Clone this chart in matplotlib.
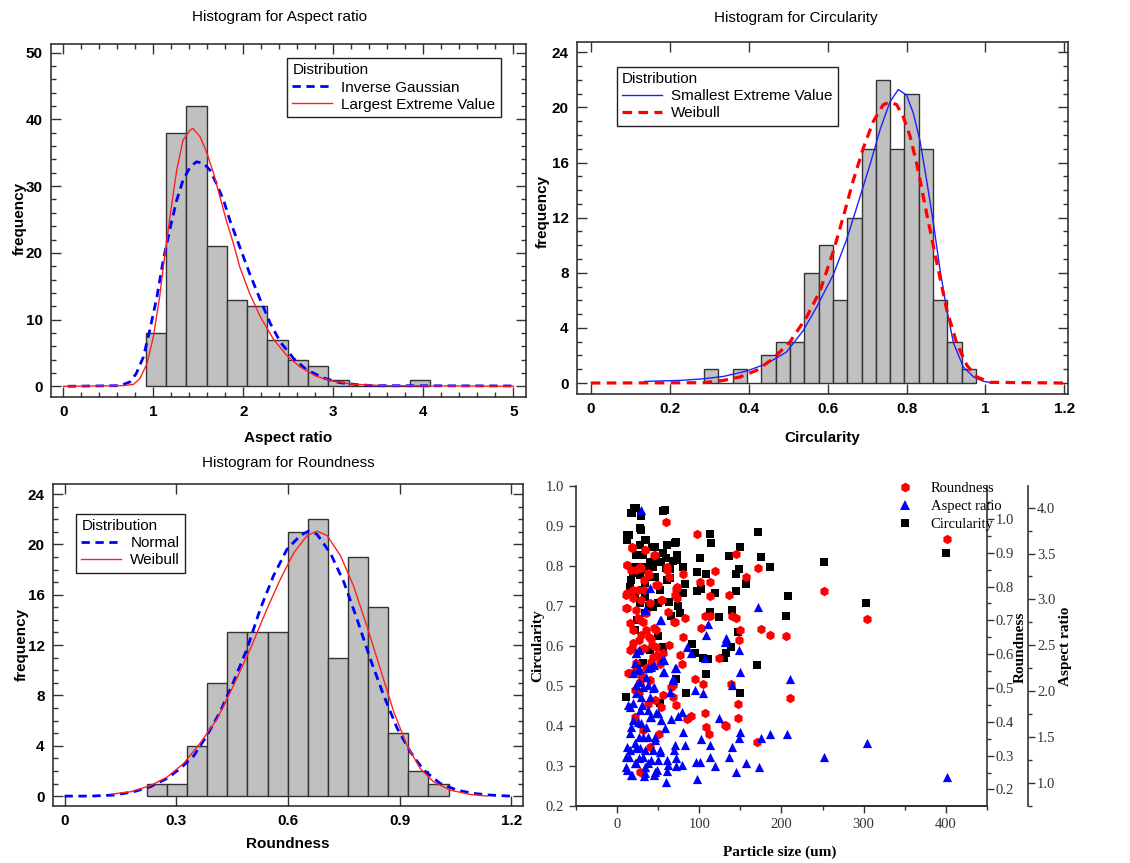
import numpy as np
import matplotlib
matplotlib.use("Agg")
import matplotlib.pyplot as plt
from matplotlib.ticker import MultipleLocator, FormatStrFormatter
from matplotlib.lines import Line2D

# ---------------- dados dos histogramas ----------------
ar_bin_start = 0.915
ar_bin_width = 0.2255
ar_counts = [8, 38, 42, 21, 13, 12, 7, 4, 3, 1, 0, 0, 0, 1]

ar_ig_x = [0.05, 0.63, 0.74, 0.81, 0.89, 0.96, 1.04, 1.11, 1.19, 1.26, 1.33, 1.41, 1.48, 1.56,
           1.63, 1.70, 1.78, 1.85, 1.96, 2.07, 2.19, 2.30, 2.41, 2.56, 2.70, 2.89, 3.07,
           3.26, 3.44, 5.0]
ar_ig_y = [0, 0.1, 0.65, 1.9, 4.4, 8.4, 13.4, 18.9, 23.9, 27.9, 30.9, 32.9, 33.65, 33.4,
           32.4, 30.4, 27.9, 24.9, 20.9, 16.9, 12.9, 9.4, 6.65, 4.15, 2.5, 1.25, 0.55,
           0.25, 0.1, 0.05]
ar_lev_x = [0.0, 0.67, 0.78, 0.85, 0.93, 1.0, 1.07, 1.13, 1.19, 1.26, 1.33, 1.41, 1.44, 1.52,
            1.59, 1.67, 1.74, 1.81, 1.89, 1.96, 2.07, 2.19, 2.33, 2.48, 2.63, 2.81, 3.0,
            3.22, 3.56, 5.0]
ar_lev_y = [0, 0.1, 0.3, 1.15, 3.4, 7.4, 13.4, 19.9, 25.9, 32.4, 36.9, 38.4, 38.65, 37.4,
            35.15, 31.9, 28.4, 24.9, 21.4, 17.9, 13.9, 10.4, 7.15, 4.65, 2.9, 1.5, 0.75,
            0.3, 0.1, 0]

ci_bin_start = 0.2866
ci_bin_width = 0.0363
ci_counts = [1, 0, 1, 0, 2, 3, 3, 8, 10, 6, 12, 17, 22, 17, 21, 17, 6, 3, 1]

ci_sev_x = [0.137, 0.226, 0.287, 0.336, 0.395, 0.445, 0.496, 0.538, 0.572, 0.615, 0.648,
            0.682, 0.708, 0.733, 0.758, 0.779, 0.80, 0.817, 0.834, 0.851, 0.868, 0.885,
            0.902, 0.919, 0.944, 0.970, 0.995, 1.02]
ci_sev_y = [0.12, 0.19, 0.31, 0.48, 0.87, 1.4, 2.25, 3.8, 5.5, 7.9, 10.4, 13.5, 15.9, 18.4,
            20.4, 21.3, 20.9, 19.6, 17.6, 14.7, 11.6, 8.2, 5.3, 2.9, 1.16, 0.44, 0.12, 0]
ci_wb_x = [0.0, 0.285, 0.336, 0.378, 0.42, 0.462, 0.505, 0.547, 0.581, 0.615, 0.64, 0.665,
           0.691, 0.716, 0.741, 0.758, 0.775, 0.792, 0.809, 0.826, 0.851, 0.877, 0.902,
           0.927, 0.953, 0.978, 1.012, 1.198]
ci_wb_y = [0, 0.02, 0.19, 0.44, 0.92, 1.77, 3.0, 4.8, 6.7, 9.6, 12.1, 14.7, 17.1, 19.0,
           20.2, 20.4, 20.2, 19.3, 17.9, 15.9, 12.3, 8.7, 5.3, 2.9, 1.28, 0.44, 0.05, 0]

ro_bin_start = 0.2212
ro_bin_width = 0.054
ro_counts = [1, 1, 4, 9, 13, 13, 13, 21, 22, 11, 19, 15, 5, 2, 1]

ro_nor_x = [0.0, 0.069, 0.132, 0.185, 0.23, 0.275, 0.311, 0.347, 0.382, 0.418, 0.454, 0.49,
            0.526, 0.561, 0.597, 0.633, 0.655, 0.678, 0.714, 0.75, 0.785, 0.821, 0.857,
            0.893, 0.929, 0.964, 1.009, 1.054, 1.099, 1.144, 1.197]
ro_nor_y = [0, 0, 0.08, 0.34, 0.74, 1.4, 2.2, 3.2, 4.8, 6.7, 9.1, 11.7, 14.9, 17.5, 19.6,
            20.7, 21.05, 20.8, 19.3, 17.0, 14.1, 10.9, 8.0, 5.4, 3.5, 2.06, 1.0, 0.47,
            0.21, 0.08, 0]
ro_wb_x = [0.127, 0.176, 0.23, 0.275, 0.32, 0.364, 0.409, 0.454, 0.499, 0.544, 0.579,
           0.615, 0.651, 0.678, 0.705, 0.741, 0.776, 0.812, 0.848, 0.884, 0.92, 0.955,
           0.991, 1.036, 1.09, 1.135]
ro_wb_y = [0.16, 0.34, 0.82, 1.5, 2.6, 4.2, 6.1, 8.8, 11.7, 14.9, 17.2, 19.3, 20.7, 21.05,
           20.7, 19.1, 16.7, 13.5, 10.1, 6.7, 4.0, 2.2, 1.13, 0.47, 0.13, 0]

# ---------------- dados do gráfico de dispersão ----------------
size_c = [400, 303.4, 251.5, 206, 208.4, 171.6, 175.7, 185.8, 170.8, 156.6, 149.3, 148,
          144.4, 144.4, 136.3, 140.4, 147.2, 149.3, 139.1, 133, 130.2, 113.6, 114, 118.9,
          124.1, 113.6, 107.9, 101.4, 97.4, 102.7, 96.8, 94.5, 104.7, 110.8, 108.7, 91.7,
          84.4, 83.2, 80.3, 80.3, 77.1, 73, 71, 68.2, 64.9, 61.3, 58, 63.3, 74.2, 72.2,
          65.7, 61.3, 56, 51.9, 49.9, 43.8, 47.9, 45.8, 35.7, 31.6, 39.6, 38.9, 33.7, 28.8,
          27.6, 23.5, 20.7, 17.4, 12.2, 14.6, 10.5, 21.5, 20.3, 27.6, 25.6, 31.6, 35.7,
          39.6, 45.8, 49.9, 43.8, 27.6, 21.5, 23.9, 34.5, 30.4, 54, 56, 60, 17.4, 27.6,
          21.4, 17.9, 55.4, 12.5, 28.6, 33.9, 60.7, 71.5, 23.2, 42.9, 48.2, 73.2, 30.4,
          59, 19.6, 41.1, 64.3, 16.1, 33.9, 51.8]
circ = [0.832, 0.708, 0.811, 0.675, 0.725, 0.886, 0.823, 0.798, 0.553, 0.755, 0.847, 0.792,
        0.779, 0.738, 0.825, 0.69, 0.636, 0.482, 0.598, 0.583, 0.569, 0.879, 0.858, 0.732,
        0.673, 0.686, 0.779, 0.821, 0.786, 0.742, 0.738, 0.582, 0.569, 0.567, 0.53, 0.605,
        0.483, 0.755, 0.798, 0.732, 0.682, 0.828, 0.858, 0.813, 0.792, 0.853, 0.94, 0.711,
        0.70, 0.517, 0.676, 0.765, 0.598, 0.457, 0.625, 0.798, 0.817, 0.847, 0.865, 0.557,
        0.59, 0.701, 0.757, 0.925, 0.894, 0.944, 0.944, 0.933, 0.865, 0.878, 0.473, 0.64,
        0.798, 0.853, 0.828, 0.828, 0.79, 0.811, 0.773, 0.707, 0.698, 0.707, 0.728, 0.665,
        0.682, 0.74, 0.811, 0.832, 0.821, 0.765, 0.778,
        0.944, 0.932, 0.938, 0.878, 0.89, 0.865, 0.853, 0.861, 0.828, 0.848, 0.811, 0.815,
        0.798, 0.794, 0.782, 0.773, 0.769, 0.748, 0.723, 0.74]

size_r = [400.8, 304.3, 251.5, 206, 210.1, 185.8, 174.9, 171.6, 170.8, 156.6, 145.2, 140.4,
          145.2, 149.3, 148.5, 138.3, 147.6, 146.8, 135.9, 124.1, 131, 133, 118.9, 113.6,
          112.8, 113.6, 107.5, 102.7, 104.7, 106.7, 108.7, 111.6, 97.8, 100.6, 94.5, 90.5,
          85.6, 83.2, 80.3, 80.3, 79.5, 76.3, 72.2, 70.2, 70.2, 72.2, 68.2, 65.3, 61.3,
          62.9, 60, 63.3, 56, 55.2, 54, 51.1, 45.8, 47.1, 47.9, 45.8, 39.6, 39.6, 35.7,
          33.7, 32.5, 29.6, 27.6, 26.8, 23.5, 23.5, 21.5, 18.7, 17.4, 16.2, 13.4, 12.2,
          10.5, 11.4, 15.4, 19.9, 27.6, 31.6, 37.7, 31.6, 35.7, 41.8, 47.9, 39.6, 27.6,
          25.6, 37.7, 43.8, 52, 21.5, 27.6,
          12.5, 19.7, 28.6, 25, 35.7, 19.7, 28.6, 39.3, 44.7, 17.9, 32.2, 42.9, 48.2, 23.2,
          41.1, 51.8, 62.5, 69.7, 73.2, 53.6, 28.6, 16.1, 67.9, 55.4, 26.8,
          17.9, 33.9, 44.7, 12.5, 23.2, 28.6, 60.7, 39.3, 19.6, 32.2, 50, 73.2, 12.5]
roundness = [0.939, 0.704, 0.787, 0.654, 0.469, 0.656, 0.674, 0.855, 0.341, 0.829, 0.895,
             0.713, 0.706, 0.671, 0.643, 0.513, 0.454, 0.41, 0.775, 0.589, 0.39, 0.387,
             0.847, 0.772, 0.814, 0.712, 0.712, 0.676, 0.513, 0.427, 0.385, 0.365, 0.955,
             0.814, 0.528, 0.417, 0.407, 0.706, 0.651, 0.837, 0.572, 0.597, 0.794, 0.775,
             0.696, 0.449, 0.474, 0.503, 0.858, 0.829, 0.992, 0.627, 0.604, 0.76, 0.444,
             0.365, 0.893, 0.804, 0.671, 0.464, 0.326, 0.523, 0.558, 0.908, 0.819, 0.612,
             0.858, 0.641, 0.73, 0.553, 0.415, 0.913, 0.849, 0.612, 0.543, 0.863, 0.775,
             0.735, 0.691, 0.632, 0.252, 0.375, 0.454, 0.696, 0.671, 0.646, 0.622, 0.75,
             0.70, 0.789, 0.839, 0.592, 0.572, 0.494, 0.518,
             0.736, 0.766, 0.760, 0.707, 0.721, 0.671, 0.656, 0.650, 0.677, 0.618, 0.618,
             0.627, 0.597, 0.573, 0.576, 0.582, 0.724, 0.695, 0.766, 0.760, 0.538, 0.544,
             0.508, 0.479, 0.488,
             0.917, 0.908, 0.893, 0.863, 0.849, 0.854, 0.849, 0.834, 0.789, 0.789, 0.804,
             0.799, 0.780]

size_a = [400.8, 304.3, 251.5, 210.1, 206.9, 185.8, 175.7, 171.6, 172.4, 156.6, 149.3, 148,
          149.3, 148.5, 145.2, 140.4, 140.4, 136.3, 133, 131, 124.1, 118.9, 113.6, 113.6,
          110.8, 108.7, 107.5, 104.7, 102.7, 100.6, 96.6, 97.4, 94.5, 90.5, 85.2, 83.2,
          80.3, 79.5, 79.5, 74.2, 72.2, 70.2, 70.2, 68.2, 65.3, 62.1, 60, 58.8, 56, 55.2,
          52.8, 54, 51.9, 47.9, 45.8, 43.8, 41.8, 39.6, 39.6, 37.7, 34.5, 33.7, 31.6, 29.6,
          26.8, 23.5, 23.5, 21.5, 19.5, 17.4, 15.4, 12.2, 10.5, 13.8, 17.4, 25.6, 27.6,
          29.6, 35.7, 39.6, 45.8, 49.9, 31.6, 23.5, 21.5, 27.6, 35.7, 43.8, 25.6, 31.6,
          37.7, 19.5,
          33.9, 53.6, 23.2, 26.8, 37.5, 44.7, 57.2, 57.2, 71.5, 67.9, 26.8, 37.5, 44.7,
          23.2, 64.3,
          16.1, 30.4, 19.7, 28.6, 41.1, 50, 16.1, 26.8, 37.5, 46.4, 12.5, 23.2, 33.9, 51.8,
          14.3, 26.8, 41.1, 10.7, 21.4, 33.9, 48.2, 17.9, 32.2, 44.7, 60.7, 71.5, 69.7,
          60.7]
aspect = [1.065, 1.429, 1.276, 2.127, 1.531, 1.527, 1.491, 2.92, 1.175, 1.211, 2.211, 2.447,
          1.556, 1.484, 1.12, 2.065, 1.393, 1.284, 2.575, 2.538, 1.702, 1.182, 1.411, 1.284,
          2.731, 2.611, 2.356, 1.975, 1.473, 1.229, 1.229, 1.036, 2.011, 2.411, 2.484,
          1.411, 1.556, 1.193, 1.775, 1.727, 1.265, 1.411, 2.247, 2.138, 1.691, 1.193,
          1.011, 1.593, 2.211, 2.338, 2.775, 1.684, 1.338, 1.756, 1.12, 2.029, 2.265, 3.12,
          1.72, 1.211, 2.884, 1.102, 1.502, 3.975, 2.447, 2.411, 2.065, 2.302, 1.865,
          1.611, 1.356, 1.138, 1.284, 1.847, 1.084, 1.665, 1.375, 1.938, 2.156, 1.938,
          1.502, 1.247, 1.284, 1.211, 1.429, 1.793, 1.611, 1.356, 2.229, 2.047, 1.793,
          2.193,
          2.884, 2.775, 2.415, 2.251, 2.251, 2.284, 2.339, 2.208, 2.251, 2.121, 2.099,
          2.066, 2.044, 1.979, 1.990,
          1.826, 1.848, 1.684, 1.651, 1.717, 1.761, 1.542, 1.499, 1.499, 1.466, 1.390,
          1.379, 1.357, 1.357, 1.281, 1.270, 1.248, 1.171, 1.215, 1.171, 1.139, 1.084,
          1.073, 1.084, 1.128, 1.183, 1.357, 1.248]

SANS = "Liberation Sans"
SERIF = "Liberation Serif"
plt.rcParams["font.family"] = SANS
plt.rcParams["axes.linewidth"] = 1.2
plt.rcParams["axes.edgecolor"] = "#333333"

fig = plt.figure(figsize=(11.3, 8.63), dpi=100)


def histograma(rect, bin_start, bin_width, counts, curvas, xlim, ylim, xmaj, xmin, ymaj,
               ymin, xlabel, titulo, title_x, title_y, leg_pos, xfmt):
    ax = fig.add_axes(rect)
    left = bin_start + bin_width * np.arange(len(counts))
    ax.bar(left, counts, width=bin_width, align="edge", color="#c0c0c0",
           edgecolor="#333333", linewidth=1.0, zorder=2)
    handles = []
    for x, y, cor, estilo, lw, nome in curvas:
        ln, = ax.plot(x, y, color=cor, linestyle=estilo, linewidth=lw, zorder=3, label=nome)
        handles.append(ln)
    ax.set_xlim(*xlim)
    ax.set_ylim(*ylim)
    ax.xaxis.set_major_locator(MultipleLocator(xmaj))
    if xmin:
        ax.xaxis.set_minor_locator(MultipleLocator(xmin))
    ax.yaxis.set_major_locator(MultipleLocator(ymaj))
    ax.yaxis.set_minor_locator(MultipleLocator(ymin))
    ax.xaxis.set_major_formatter(FormatStrFormatter(xfmt))
    ax.tick_params(which="both", direction="in", top=True, right=True, width=1.0,
                   colors="#333333", labelcolor="black")
    ax.tick_params(which="major", length=7, labelsize=11, pad=6)
    ax.tick_params(which="minor", length=3.5)
    for lab in ax.get_xticklabels() + ax.get_yticklabels():
        lab.set_fontweight("bold")
    ax.set_xlabel(xlabel, fontsize=11, fontweight="bold")
    ax.set_ylabel("frequency", fontsize=11, fontweight="bold")
    ax.text(title_x, title_y, titulo, transform=ax.transAxes, ha="center", va="center",
            fontsize=11)
    leg = ax.legend(handles=handles, title="Distribution", loc="upper left",
                    bbox_to_anchor=leg_pos, fontsize=11, title_fontsize=11, frameon=True,
                    fancybox=False, framealpha=1, edgecolor="#222222", handlelength=2.6,
                    borderpad=0.35, labelspacing=0.2, handletextpad=0.6, borderaxespad=0,
                    alignment="left")
    leg.get_frame().set_linewidth(1.0)
    return ax


ax1 = histograma([0.0451, 0.54, 0.4204, 0.409], ar_bin_start, ar_bin_width, ar_counts,
                 [(ar_ig_x, ar_ig_y, "#0000ff", (0, (3, 2)), 2.0, "Inverse Gaussian"),
                  (ar_lev_x, ar_lev_y, "#ff2020", "-", 1.0, "Largest Extreme Value")],
                 (-0.137, 5.14), (-1.6, 51.3), 1, 0.2, 10, 2, "Aspect ratio",
                 "Histogram for Aspect ratio", 0.482, 1.076, (0.497, 0.96), "%g")
ax1.xaxis.set_label_coords(0.5, -0.095)
ax1.yaxis.set_label_coords(-0.05, 0.507)

ax2 = histograma([0.5106, 0.5434, 0.4345, 0.4079], ci_bin_start, ci_bin_width, ci_counts,
                 [(ci_sev_x, ci_sev_y, "#2020ff", "-", 1.0, "Smallest Extreme Value"),
                  (ci_wb_x, ci_wb_y, "#ff0000", (0, (3, 2)), 2.3, "Weibull")],
                 (-0.035, 1.209), (-0.8, 24.75), 0.2, None, 4, 1, "Circularity",
                 "Histogram for Circularity", 0.446, 1.068, (0.081, 0.929), "%g")
ax2.xaxis.set_label_coords(0.5, -0.104)
ax2.yaxis.set_label_coords(-0.056, 0.52)

ax3 = histograma([0.0469, 0.066, 0.4159, 0.3732], ro_bin_start, ro_bin_width, ro_counts,
                 [(ro_nor_x, ro_nor_y, "#0000ff", (0, (3, 2)), 2.0, "Normal"),
                  (ro_wb_x, ro_wb_y, "#ff2020", "-", 1.0, "Weibull")],
                 (-0.031, 1.231), (-0.79, 24.8), 0.3, None, 4, 1, "Roundness",
                 "Histogram for Roundness", 0.5, 1.065, (0.049, 0.907), "%g")
ax3.xaxis.set_label_coords(0.5, -0.095)
ax3.yaxis.set_label_coords(-0.051, 0.503)

# ---------------- dispersão com três eixos y ----------------
rect4 = [0.5097, 0.066, 0.3637, 0.3708]
axc = fig.add_axes(rect4)
axr = axc.twinx()
axa = axc.twinx()

axc.scatter(size_c, circ, marker="s", s=32, color="black", linewidths=0, zorder=3)
axr.scatter(size_r, roundness, marker="h", s=46, color="#ff0000", linewidths=0, zorder=3)
axa.scatter(size_a, aspect, marker="^", s=44, color="#0000ff", linewidths=0, zorder=3)

axc.set_xlim(-50, 450)
axc.set_ylim(0.2, 1.0)
axr.set_ylim(0.151, 1.097)
axa.set_ylim(0.745, 4.236)

for a in (axc, axr, axa):
    a.spines["top"].set_visible(False)
    a.tick_params(which="both", direction="out", colors="#333333", labelcolor="#333333",
                  width=1.0)
    a.tick_params(which="major", length=5, labelsize=10.5)
    a.tick_params(which="minor", length=3)

axc.spines["right"].set_visible(False)
axa.spines["right"].set_position(("outward", 29.5))
axr.spines["left"].set_visible(False)
axa.spines["left"].set_visible(False)

axc.xaxis.set_major_locator(MultipleLocator(100))
axc.xaxis.set_minor_locator(MultipleLocator(50))
axc.yaxis.set_major_locator(MultipleLocator(0.1))
axc.yaxis.set_major_formatter(FormatStrFormatter("%.1f"))
axr.yaxis.set_major_locator(MultipleLocator(0.1))
axr.yaxis.set_minor_locator(MultipleLocator(0.05))
axr.yaxis.set_major_formatter(FormatStrFormatter("%.1f"))
axa.yaxis.set_major_locator(MultipleLocator(0.5))
axa.yaxis.set_minor_locator(MultipleLocator(0.25))
axa.yaxis.set_major_formatter(FormatStrFormatter("%.1f"))
axr.tick_params(axis="y", pad=1.5)
axa.tick_params(axis="y", pad=1.5)

for a in (axc, axr, axa):
    for lab in a.get_xticklabels() + a.get_yticklabels():
        lab.set_fontfamily(SERIF)

lab_font = {"family": SERIF, "size": 11, "weight": "bold"}
axc.set_xlabel("Particle size (um)", fontdict=lab_font)
axc.xaxis.set_label_coords(0.496, -0.122)
axc.set_ylabel("Circularity", fontdict=lab_font)
axc.yaxis.set_label_coords(-0.078, 0.5)
axr.set_ylabel("Roundness", fontdict=lab_font)
axr.yaxis.set_label_coords(1.066, 0.497)
axa.set_ylabel("Aspect ratio", fontdict=lab_font)
axa.yaxis.set_label_coords(1.175, 0.5)

leg_handles = [
    Line2D([], [], marker="h", color="#ff0000", linestyle="none", markersize=7,
           markeredgewidth=0, label="Roundness"),
    Line2D([], [], marker="^", color="#0000ff", linestyle="none", markersize=7,
           markeredgewidth=0, label="Aspect ratio"),
    Line2D([], [], marker="s", color="black", linestyle="none", markersize=6,
           markeredgewidth=0, label="Circularity"),
]
axa.legend(handles=leg_handles, loc="upper left", bbox_to_anchor=(0.75, 1.03),
           frameon=False, prop={"family": SERIF, "size": 10.5}, handletextpad=0.8,
           labelspacing=0.3, borderaxespad=0)

fig.savefig("out.png", dpi=100)
